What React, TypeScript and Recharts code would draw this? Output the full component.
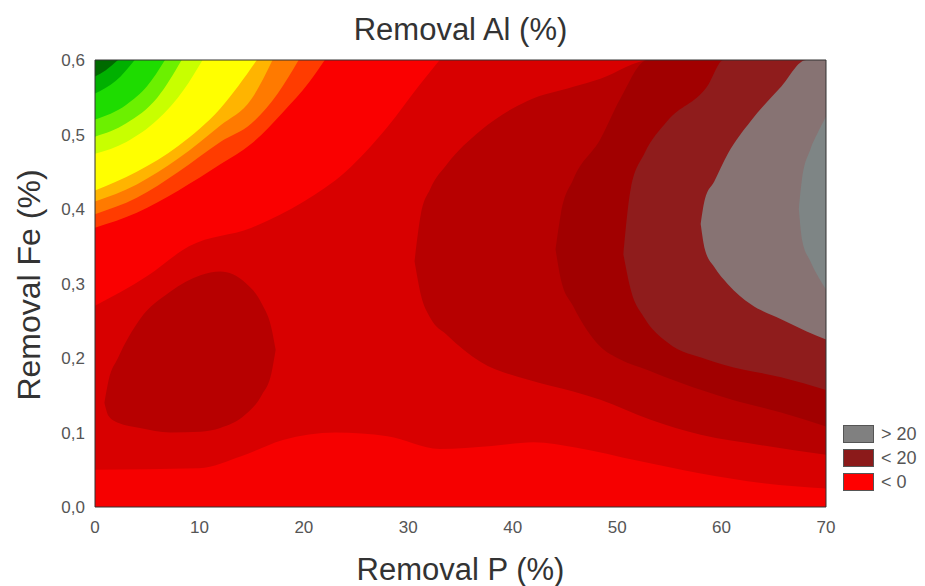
import React from 'react';
import { ComposedChart, Area, XAxis, YAxis, CartesianGrid, ReferenceArea } from 'recharts';

// [x, low, high] for every filled contour band (Removal P %, Removal Fe %)
type Pt = [number, number, number];

const xTicks = [0, 10, 20, 30, 40, 50, 60, 70];
const yTicks = [0, 0.1, 0.2, 0.3, 0.4, 0.5, 0.6];

const bottomStrip: Pt[] = [
  [0, 0, 0.05], [10, 0, 0.052], [14, 0, 0.068], [18, 0, 0.09], [23, 0, 0.1], [28, 0, 0.095],
  [33, 0, 0.078], [38, 0, 0.082], [42, 0, 0.087], [46, 0, 0.08], [52, 0, 0.062], [58, 0, 0.045],
  [64, 0, 0.032], [70, 0, 0.025],
];

const leftBlob: Pt[] = [
  [0.9, 0.14, 0.14], [1.3, 0.122, 0.17], [2.2, 0.113, 0.2], [4.3, 0.106, 0.252], [7.2, 0.1, 0.289],
  [10.1, 0.101, 0.311], [12, 0.106, 0.316], [14.4, 0.124, 0.301], [16, 0.151, 0.272],
  [16.9, 0.18, 0.24], [17.3, 0.211, 0.211],
];

const midBand: Pt[] = [
  [30.6, 0.33, 0.33], [31.2, 0.285, 0.393], [32.1, 0.254, 0.427], [33.7, 0.231, 0.46],
  [36.9, 0.195, 0.505], [41.4, 0.171, 0.545], [45.8, 0.155, 0.564], [48.4, 0.144, 0.575],
  [53.2, 0.117, 0.6], [58, 0.097, 0.6], [63.8, 0.083, 0.6], [70, 0.07, 0.6],
];

const darkBand: Pt[] = [
  [44.1, 0.346, 0.346], [44.6, 0.306, 0.393], [45.8, 0.269, 0.44], [48.4, 0.215, 0.494],
  [50.3, 0.198, 0.548], [52.9, 0.184, 0.6], [56, 0.167, 0.6], [61, 0.144, 0.6],
  [65.7, 0.127, 0.6], [70, 0.108, 0.6],
];

const brownBand: Pt[] = [
  [50.6, 0.339, 0.339], [51.3, 0.292, 0.427], [52.6, 0.254, 0.474], [54.8, 0.221, 0.518],
  [58.6, 0.198, 0.564], [60.2, 0.191, 0.6], [65.7, 0.174, 0.6], [70, 0.157, 0.6],
];

const grayBand: Pt[] = [
  [58, 0.38, 0.38], [58.4, 0.346, 0.413], [59.3, 0.322, 0.437], [60.6, 0.299, 0.474],
  [62.8, 0.272, 0.518], [65.7, 0.252, 0.564], [68.1, 0.236, 0.6], [70, 0.225, 0.6],
];

const lightGray: Pt[] = [
  [67.4, 0.4, 0.4], [67.7, 0.359, 0.44], [68.5, 0.33, 0.48], [69.3, 0.308, 0.505], [70, 0.292, 0.524],
];

// upper-left corner, lower edge of each band (upper edge is the top of the plot)
const brightRed: Pt[] = [
  [0, 0.27, 0.6], [5, 0.31, 0.6], [9, 0.35, 0.6], [15, 0.375, 0.6], [20, 0.41, 0.6],
  [24, 0.45, 0.6], [28, 0.51, 0.6], [31, 0.565, 0.6], [33, 0.6, 0.6],
];
const redOrange: Pt[] = [
  [0, 0.375, 0.6], [4, 0.395, 0.6], [8, 0.425, 0.6], [12, 0.46, 0.6], [15, 0.488, 0.6],
  [18, 0.53, 0.6], [20.5, 0.57, 0.6], [22, 0.6, 0.6],
];
const orange: Pt[] = [
  [0, 0.393, 0.6], [4, 0.415, 0.6], [8, 0.45, 0.6], [12, 0.49, 0.6], [15, 0.515, 0.6],
  [17.5, 0.555, 0.6], [19.5, 0.6, 0.6],
];
const amber: Pt[] = [
  [0, 0.41, 0.6], [4, 0.433, 0.6], [8, 0.468, 0.6], [12, 0.512, 0.6], [15, 0.548, 0.6], [17, 0.6, 0.6],
];
const yellow: Pt[] = [
  [0, 0.425, 0.6], [4, 0.45, 0.6], [8, 0.485, 0.6], [12, 0.535, 0.6], [15.5, 0.6, 0.6],
];
const lime: Pt[] = [
  [0, 0.474, 0.6], [3, 0.49, 0.6], [6, 0.52, 0.6], [8.5, 0.56, 0.6], [10.3, 0.6, 0.6],
];
const lightGreen: Pt[] = [
  [0, 0.497, 0.6], [3, 0.515, 0.6], [6, 0.55, 0.6], [8.3, 0.6, 0.6],
];
const green: Pt[] = [
  [0, 0.52, 0.6], [3, 0.54, 0.6], [5, 0.565, 0.6], [6.7, 0.6, 0.6],
];
const midGreen: Pt[] = [
  [0, 0.555, 0.6], [2, 0.572, 0.6], [3.8, 0.6, 0.6],
];
const darkGreen: Pt[] = [
  [0, 0.578, 0.6], [1, 0.586, 0.6], [2.2, 0.6, 0.6],
];

const bands: { name: string; color: string; pts: Pt[] }[] = [
  { name: 'bottom', color: '#f60000', pts: bottomStrip },
  { name: 'blob', color: '#b70000', pts: leftBlob },
  { name: 'mid', color: '#b70000', pts: midBand },
  { name: 'dark', color: '#a10000', pts: darkBand },
  { name: 'brown', color: '#8f1c1c', pts: brownBand },
  { name: 'gray', color: '#877373', pts: grayBand },
  { name: 'lightgray', color: '#7e8585', pts: lightGray },
  { name: 'bright', color: '#fa0000', pts: brightRed },
  { name: 'redorange', color: '#ff3c00', pts: redOrange },
  { name: 'orange', color: '#ff7a00', pts: orange },
  { name: 'amber', color: '#ffb400', pts: amber },
  { name: 'yellow', color: '#ffff00', pts: yellow },
  { name: 'lime', color: '#c8ff00', pts: lime },
  { name: 'lightgreen', color: '#6cf000', pts: lightGreen },
  { name: 'green', color: '#1edc00', pts: green },
  { name: 'midgreen', color: '#00b000', pts: midGreen },
  { name: 'darkgreen', color: '#006a00', pts: darkGreen },
];

const legendItems = [
  { label: '> 20', color: '#808080' },
  { label: '< 20', color: '#8b1a1a' },
  { label: '< 0', color: '#ff0000' },
];

const fmt = (v: number) => v.toFixed(1).replace('.', ',');
const font = "'Liberation Sans', Arial, sans-serif";

export default function App() {
  return (
    <div style={{ position: 'relative', width: 917, height: 578, fontFamily: font }}>
      <ComposedChart width={917} height={578} margin={{ top: 52, right: 99, bottom: 39, left: 0 }}>
        <CartesianGrid fill="#d80000" fillOpacity={1} horizontal={false} vertical={false} />
        <XAxis
          dataKey="x"
          type="number"
          domain={[0, 70]}
          ticks={xTicks}
          allowDataOverflow
          height={40}
          axisLine={false}
          tickLine={false}
          tickSize={8}
          tickMargin={6}
          tick={{ fontSize: 17, fill: '#555', fontFamily: font }}
        />
        <YAxis
          type="number"
          domain={[0, 0.6]}
          ticks={yTicks}
          allowDataOverflow
          width={87}
          axisLine={false}
          tickLine={false}
          tickSize={8}
          tickMargin={2}
          tickFormatter={fmt}
          tick={{ fontSize: 17, fill: '#555', fontFamily: font }}
        />
        {bands.map((b) => (
          <Area
            key={b.name}
            name={b.name}
            data={b.pts.map(([x, lo, hi]) => ({ x, r: [lo, hi] }))}
            dataKey="r"
            type="monotone"
            fill={b.color}
            fillOpacity={1}
            stroke="none"
            isAnimationActive={false}
          />
        ))}
        <ReferenceArea x1={0} x2={70} y1={0} y2={0.6} fill="none" stroke="#333" strokeWidth={1} />
      </ComposedChart>
      <div style={{ position: 'absolute', left: 87, width: 731, top: 6, textAlign: 'center', fontSize: 31, lineHeight: '31px', color: '#333' }}>
        Removal Al (%)
      </div>
      <div style={{ position: 'absolute', left: 87, width: 731, top: 546, textAlign: 'center', fontSize: 31, lineHeight: '31px', color: '#333' }}>
        Removal P (%)
      </div>
      <div
        style={{
          position: 'absolute', left: 21, top: 277, width: 0, height: 0, overflow: 'visible',
        }}
      >
        <div style={{ position: 'absolute', transform: 'translate(-50%, -50%) rotate(-90deg)', whiteSpace: 'nowrap', fontSize: 32, lineHeight: '32px', color: '#333' }}>
          Removal Fe (%)
        </div>
      </div>
      <div style={{ position: 'absolute', left: 835, top: 414 }}>
        {legendItems.map((it) => (
          <div key={it.label} style={{ display: 'flex', alignItems: 'center', height: 24 }}>
            <div style={{ width: 31, height: 18, background: it.color, border: '1px solid #555', boxSizing: 'border-box' }} />
            <span style={{ marginLeft: 7, fontSize: 18, color: '#555' }}>{it.label}</span>
          </div>
        ))}
      </div>
    </div>
  );
}
